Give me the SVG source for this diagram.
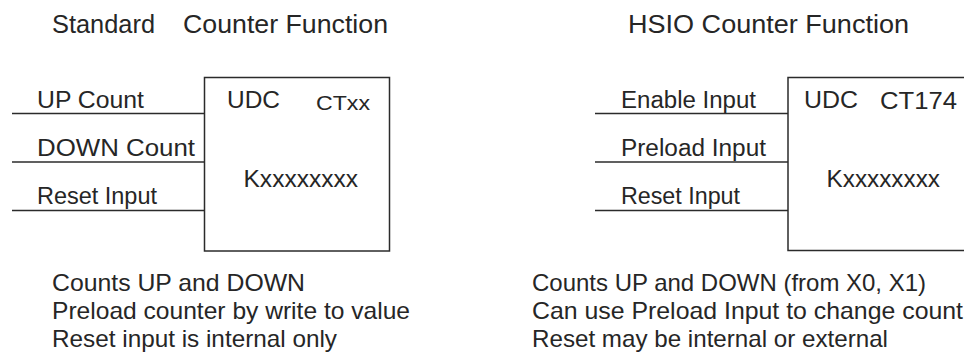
<svg xmlns="http://www.w3.org/2000/svg" width="964" height="356" viewBox="0 0 964 356">
<style>
text{font-family:"Liberation Sans",Arial,sans-serif;fill:#262626}
.title{font-size:26px}
.lbl{font-size:23px}
.cap{font-size:24px}
.box{fill:#fff;stroke:#2b2b2b;stroke-width:1.5}
.wire{stroke:#2b2b2b;stroke-width:1.5;fill:none}
</style>
<rect width="964" height="356" fill="#fff"/>
<g id="titles">
<text class="title" y="33"><tspan x="52" textLength="103" lengthAdjust="spacingAndGlyphs">Standard</tspan><tspan x="183" textLength="205" lengthAdjust="spacingAndGlyphs">Counter Function</tspan></text>
<text class="title" x="628" y="33" textLength="281" lengthAdjust="spacingAndGlyphs">HSIO Counter Function</text>
</g>
<g id="connectors">
<line class="wire" x1="12" y1="113.5" x2="204.5" y2="113.5"/>
<line class="wire" x1="12" y1="162" x2="204.5" y2="162"/>
<line class="wire" x1="12" y1="210.5" x2="204.5" y2="210.5"/>
<line class="wire" x1="595" y1="113.5" x2="788" y2="113.5"/>
<line class="wire" x1="595" y1="162" x2="788" y2="162"/>
<line class="wire" x1="595" y1="210.5" x2="788" y2="210.5"/>
</g>
<g id="input-labels">
<text class="lbl" x="37" y="107.5" textLength="107" lengthAdjust="spacingAndGlyphs">UP Count</text>
<text class="lbl" x="37" y="155.5" textLength="158" lengthAdjust="spacingAndGlyphs">DOWN Count</text>
<text class="lbl" x="37" y="203.5" textLength="120" lengthAdjust="spacingAndGlyphs">Reset Input</text>
<text class="lbl" x="621" y="107.5" textLength="135" lengthAdjust="spacingAndGlyphs">Enable Input</text>
<text class="lbl" x="621" y="155.5" textLength="145" lengthAdjust="spacingAndGlyphs">Preload Input</text>
<text class="lbl" x="621" y="203.5" textLength="119" lengthAdjust="spacingAndGlyphs">Reset Input</text>
</g>
<g id="standard-counter">
<rect class="box" x="204.5" y="77.5" width="185" height="173.5"/>
<text class="lbl" x="227" y="108" textLength="53" lengthAdjust="spacingAndGlyphs">UDC</text>
<text class="lbl" x="316" y="110" style="font-size:21px" textLength="54" lengthAdjust="spacingAndGlyphs">CTxx</text>
<text class="lbl" x="243.5" y="186.5" textLength="114.5" lengthAdjust="spacingAndGlyphs">Kxxxxxxxx</text>
</g>
<g id="hsio-counter">
<rect class="box" x="788" y="77.5" width="190" height="173"/>
<text class="lbl" x="804" y="108" textLength="54" lengthAdjust="spacingAndGlyphs">UDC</text>
<text class="lbl" x="880" y="109" textLength="77" lengthAdjust="spacingAndGlyphs">CT174</text>
<text class="lbl" x="826.5" y="186.5" textLength="113.5" lengthAdjust="spacingAndGlyphs">Kxxxxxxxx</text>
</g>
<g id="standard-notes">
<text class="cap" x="52" y="291" textLength="253" lengthAdjust="spacingAndGlyphs">Counts UP and DOWN</text>
<text class="cap" x="52" y="319" textLength="358" lengthAdjust="spacingAndGlyphs">Preload counter by write to value</text>
<text class="cap" x="52" y="347" textLength="285" lengthAdjust="spacingAndGlyphs">Reset input is internal only</text>
</g>
<g id="hsio-notes">
<text class="cap" x="532" y="291" textLength="394" lengthAdjust="spacingAndGlyphs">Counts UP and DOWN (from X0, X1)</text>
<text class="cap" x="532" y="319" textLength="431" lengthAdjust="spacingAndGlyphs">Can use Preload Input to change count</text>
<text class="cap" x="532" y="347" textLength="356" lengthAdjust="spacingAndGlyphs">Reset may be internal or external</text>
</g>
</svg>
